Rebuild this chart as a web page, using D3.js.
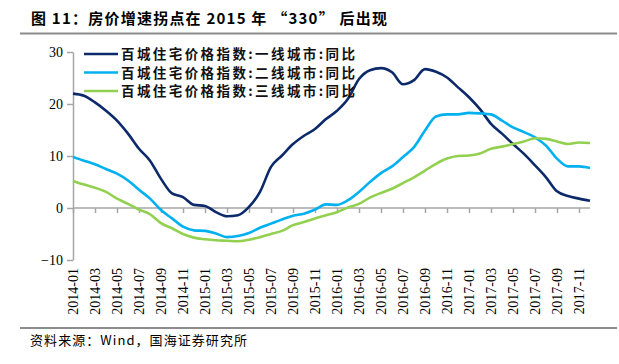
<!DOCTYPE html>
<html>
<head>
<meta charset="utf-8">
<script src="https://cdn.jsdelivr.net/npm/d3@7"></script>
<style>
  body { margin: 0; background: #fff; }
  .title { font-family: "Noto Sans CJK SC", sans-serif; font-weight: bold; font-size: 15px; fill: #000; }
  .legend text { font-family: "Noto Sans CJK SC", sans-serif; font-weight: bold; font-size: 13.5px; fill: #111; }
  .axis path, .axis line { stroke: #a6a6a6; stroke-width: 1.5; }
  .caption { font-family: "Noto Sans CJK SC", sans-serif; font-size: 13px; fill: #000; }
</style>
</head>
<body>
<div id="chart"></div>
<script>
var months = [];
for (var yr = 2014; yr <= 2017; yr++) {
  for (var m = 1; m <= 12; m++) months.push(yr + "-" + (m < 10 ? "0" + m : m));
}

var seriesNames = ["百城住宅价格指数:一线城市:同比", "百城住宅价格指数:二线城市:同比", "百城住宅价格指数:三线城市:同比"];
var colors = ["#0c2a6a", "#00b0f0", "#92d050"];

var tier1 = [22.0, 21.6, 20.3, 18.7, 16.8, 14.3, 11.4, 9.1, 5.6, 2.8, 2.1, 0.6,
             0.4, -0.8, -1.6, -1.4, 0.2, 3.1, 7.9, 10.1, 12.3, 13.9, 15.2, 17.1,
             18.7, 21.0, 24.8, 26.5, 26.9, 26.1, 23.8, 24.6, 26.7, 26.2, 25.1, 23.2,
             21.3, 19.0, 16.2, 14.3, 12.3, 10.4, 8.2, 5.9, 3.2, 2.3, 1.8, 1.4];
var tier2 = [9.8, 9.1, 8.4, 7.5, 6.6, 5.3, 3.5, 1.8, -0.4, -2.0, -3.6, -4.3,
             -4.4, -4.9, -5.6, -5.4, -4.8, -3.8, -3.0, -2.2, -1.5, -1.1, -0.3, 0.7,
             0.6, 1.5, 3.1, 5.0, 6.7, 8.0, 9.8, 11.7, 14.9, 17.6, 18.0, 18.0,
             18.3, 18.2, 18.0, 16.8, 15.5, 14.6, 13.6, 12.0, 9.5, 8.0, 8.0, 7.7];
var tier3 = [5.2, 4.5, 3.9, 3.1, 1.8, 0.8, -0.3, -1.2, -2.9, -3.9, -5.0, -5.7,
             -6.0, -6.2, -6.3, -6.4, -6.1, -5.6, -5.0, -4.4, -3.3, -2.7, -2.0, -1.4,
             -0.8, 0.1, 0.8, 2.0, 2.9, 3.7, 4.8, 5.9, 7.2, 8.5, 9.5, 10.0,
             10.1, 10.5, 11.4, 11.8, 12.3, 12.8, 13.4, 13.3, 12.8, 12.3, 12.6, 12.5];
var yTicks = [-10, 0, 10, 20, 30];

var W = 619, H = 364;
var serif = '"Liberation Serif", "DejaVu Serif", serif';
var svg = d3.select("#chart").append("svg").attr("width", W).attr("height", H);

// title + rules
svg.append("text").attr("class", "title").attr("x", 31).attr("y", 24)
  .attr("textLength", 356).attr("lengthAdjust", "spacing")
  .text("图 11：房价增速拐点在 2015 年 “330” 后出现");
svg.append("line").attr("x1", 20).attr("x2", 617).attr("y1", 33.5).attr("y2", 33.5)
  .attr("stroke", "#8c8c8c").attr("stroke-width", 2);
svg.append("line").attr("x1", 20).attr("x2", 617).attr("y1", 328).attr("y2", 328)
  .attr("stroke", "#8c8c8c").attr("stroke-width", 2);
svg.append("text").attr("class", "caption").attr("x", 30).attr("y", 345)
  .attr("textLength", 217).attr("lengthAdjust", "spacing")
  .text("资料来源：Wind，国海证券研究所");

var x = d3.scalePoint().domain(months).range([73, 590]);
var y = d3.scaleLinear().domain([-10, 30]).range([260, 52]);

// y axis
var ya = svg.append("g").attr("class", "axis")
  .attr("transform", "translate(73,0)")
  .call(d3.axisLeft(y).tickValues(yTicks).tickSize(6).tickPadding(4).tickSizeOuter(0));
ya.attr("font-family", serif).attr("font-size", 14);
ya.selectAll("text").attr("fill", "#000");

// x axis at zero
var xTickVals = months.filter(function(d, i) { return i % 2 == 0; });
var xa = svg.append("g").attr("class", "axis")
  .attr("transform", "translate(0," + y(0) + ")")
  .call(d3.axisBottom(x).tickValues(xTickVals).tickSize(5).tickSizeOuter(0));
xa.attr("font-family", serif).attr("font-size", 14);
xa.select(".domain").attr("d", "M73,0H590");
xa.selectAll("text")
  .attr("fill", "#000")
  .attr("transform", "rotate(-90)")
  .attr("x", -60).attr("y", 0).attr("dy", "0.35em")
  .style("text-anchor", "end");

// lines
var line = d3.line()
  .x(function(d, i) { return x(months[i]); })
  .y(function(d) { return y(d); })
  .curve(d3.curveMonotoneX);

[tier1, tier2, tier3].forEach(function(s, k) {
  svg.append("path").datum(s)
    .attr("fill", "none")
    .attr("stroke", colors[k])
    .attr("stroke-width", 2.6)
    .attr("d", line);
});

// legend
var legend = svg.selectAll(".legend").data(seriesNames).enter()
  .append("g").attr("class", "legend")
  .attr("transform", function(d, i) { return "translate(84," + (54 + i * 18.5) + ")"; });
legend.append("line").attr("x1", 0).attr("x2", 34).attr("y1", 0).attr("y2", 0)
  .attr("stroke", function(d, i) { return colors[i]; }).attr("stroke-width", 2.6);
legend.append("text").attr("x", 37).attr("y", 5)
  .attr("textLength", 234).attr("lengthAdjust", "spacing")
  .text(function(d) { return d; });
</script>
</body>
</html>
